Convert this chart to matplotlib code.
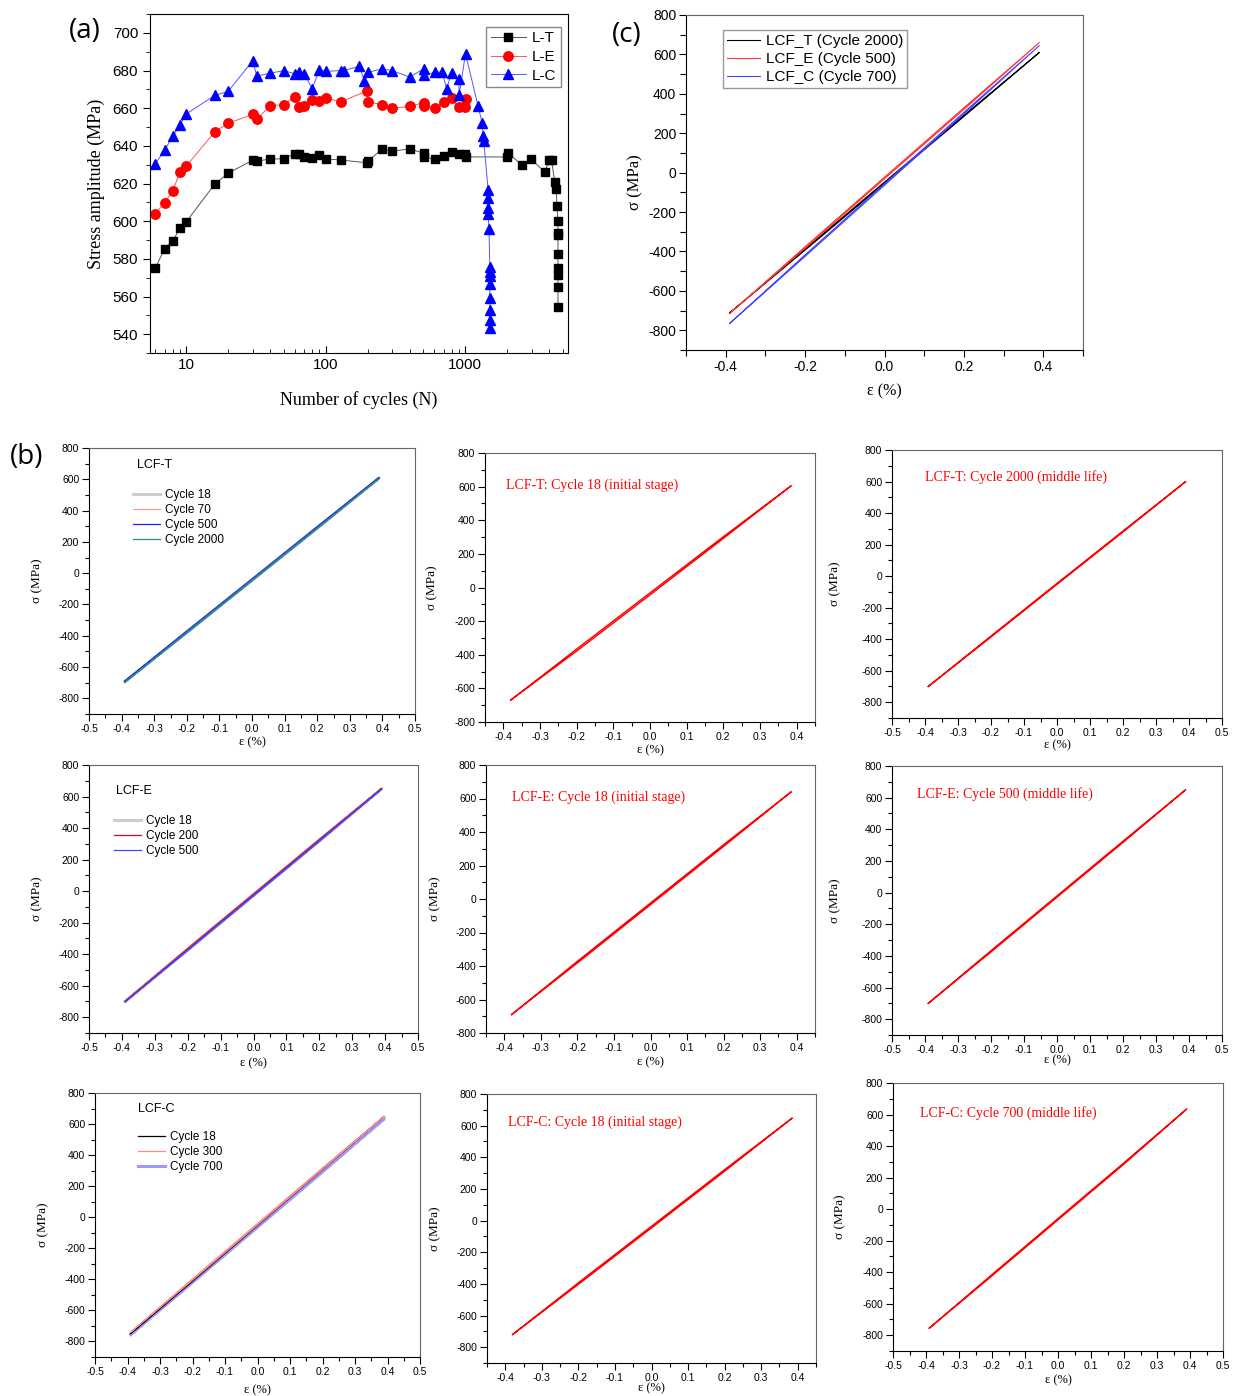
import matplotlib.pyplot as plt
from matplotlib.ticker import MultipleLocator, LogLocator, NullFormatter, FormatStrFormatter

SANS = 'Liberation Sans'
SERIF = 'Liberation Serif'
LABELFONT = 'Open Sans'

plt.rcParams['font.family'] = SANS
plt.rcParams['axes.unicode_minus'] = False

W, H = 1237, 1396

# ---------------- (a) stress amplitude vs number of cycles ----------------
lt_n = [6, 7, 8, 9, 10, 16, 20, 30, 32, 40, 50, 60, 64, 70, 80, 90, 100, 128, 197, 200,
        254, 300, 400, 502, 510, 605, 700, 803, 896, 989, 1013, 2000, 2030, 2570, 2983,
        3717, 3994, 4155, 4375, 4500, 4540, 4620, 4620, 4620, 4620, 4620, 4620, 4620, 4620]
lt_s = [575, 585.4, 589.4, 596.3, 599.7, 619.6, 625.5, 632.4, 632, 632.9, 633.2, 635.7, 635.7,
        634, 633.6, 635, 633, 632.5, 631, 631.7, 638.4, 637.1, 638.4, 636.1, 634, 632.9, 634.5,
        636.6, 635.9, 635.9, 634.1, 634.1, 636.2, 629.6, 632.9, 626, 632.4, 632.4, 620.9, 617.2,
        607.8, 600.2, 593.9, 592.8, 582.4, 575.3, 571.3, 564.9, 554.5]

le_n = [6, 7, 8, 9, 10, 16, 20, 30, 32, 40, 50, 60, 64, 70, 80, 90, 100, 128, 197, 200,
        254, 300, 400, 502, 510, 605, 700, 803, 896, 989, 1013]
le_s = [603.9, 609.9, 615.9, 626, 629.2, 647.4, 652, 656.7, 654.1, 661.3, 661.9, 666.1, 660.4,
        661.3, 664.5, 663.6, 665.4, 663.4, 669.1, 663.3, 661.9, 659.9, 661, 662.9, 661, 660.1,
        663.3, 665.2, 660.4, 660.6, 665]

lc_n = [6, 7, 8, 9, 10, 16, 20, 30, 32, 40, 50, 60, 64, 70, 80, 90, 100, 128, 135, 174,
        189, 200, 254, 300, 400, 502, 510, 605, 684, 735, 798, 899, 904, 1004, 1237, 1321,
        1342, 1358, 1460, 1460, 1460, 1460, 1480, 1500, 1500, 1500, 1500, 1500, 1500, 1500, 1500]
lc_s = [630.4, 637.7, 645.1, 651.1, 656.9, 666.8, 668.9, 685.3, 677, 678.6, 679.9, 678.3, 679.3,
        678.3, 670.3, 680.4, 679.5, 680, 680, 682.2, 674.6, 679, 680.9, 679.9, 676.5, 680.9,
        677.6, 679, 679.2, 670.3, 678.6, 675.6, 667, 688.9, 661, 652.2, 645.1, 642.4,
        616.3, 612.4, 606.8, 603.9, 595.6, 575.7, 573, 570.9, 566.5, 559.4, 552.7, 547.6, 543.5]

# ---------------- hysteresis loops (strain %, stress MPa), vertices around each loop ----------------
eps_loop = [-0.39, -0.2, 0.0, 0.2, 0.39, 0.2, 0.0, -0.2, -0.39]
eps_init = [-0.38, -0.2, 0.0, 0.2, 0.385, 0.2, 0.0, -0.2, -0.38]

# (c) comparison at middle life
c_t2000 = [-712, -393, -54, 285, 610, 291, -48, -387, -712]
c_e500 = [-715, -384, -31, 321, 660, 329, -23, -376, -715]
c_c700 = [-765, -425, -64, 298, 645, 306, -56, -417, -765]

# (b) LCF-T
t_c18 = [-692, -379, -46, 288, 607, 294, -40, -373, -692]
t_c70 = [-695, -381, -48, 286, 608, 292, -42, -375, -695]
t_c500 = [-690, -376, -43, 291, 612, 297, -37, -370, -690]
t_c2000 = [-698, -384, -50, 283, 605, 289, -44, -378, -698]
t_init = [-670, -378, -44, 292, 605, 302, -32, -366, -670]
t_mid = [-700, -386, -52, 280, 600, 286, -46, -380, -700]

# (b) LCF-E
e_c18 = [-700, -375, -29, 317, 650, 325, -21, -367, -700]
e_c200 = [-698, -372, -26, 320, 652, 328, -18, -364, -698]
e_c500 = [-702, -377, -31, 315, 648, 321, -25, -371, -702]
e_init = [-690, -382, -34, 314, 640, 324, -24, -372, -690]
e_mid = [-700, -375, -29, 317, 650, 325, -21, -367, -700]

# (b) LCF-C
cc_c18 = [-748, -412, -53, 306, 650, 314, -45, -404, -748]
cc_c300 = [-740, -405, -49, 308, 650, 316, -41, -397, -740]
cc_c700 = [-755, -420, -64, 292, 635, 300, -56, -412, -755]
cc_init = [-720, -403, -46, 312, 648, 322, -36, -393, -720]
cc_mid = [-755, -423, -68, 286, 635, 294, -60, -415, -755]

TICKS_WIDE = [x / 10 for x in range(-5, 6)]
TICKS_NARROW = [x / 10 for x in range(-4, 5)]


def rect(l, t, r, b):
    return [l / W, 1 - b / H, (r - l) / W, (b - t) / H]


fig = plt.figure(figsize=(W / 100, H / 100), dpi=100)

# ---- panel (a)
ax = fig.add_axes(rect(150, 14, 568, 353))
ax.plot(lt_n, lt_s, '-s', color='#555555', lw=0.7, mfc='k', mec='k', ms=6, label='L-T')
ax.plot(le_n, le_s, '-o', color='#ff5555', lw=0.7, mfc='red', mec='red', ms=6.8, label='L-E')
ax.plot(lc_n, lc_s, '-^', color='#5555ff', lw=0.7, mfc='blue', mec='blue', ms=7.2, label='L-C')
ax.set_xscale('log')
ax.set_xlim(5.5, 5450)
ax.set_ylim(530, 710)
ax.set_yticks(range(540, 701, 20))
ax.yaxis.set_minor_locator(MultipleLocator(10))
ax.set_xticks([10, 100, 1000])
ax.set_xticklabels(['10', '100', '1000'])
ax.xaxis.set_minor_locator(LogLocator(base=10, subs=range(2, 10)))
ax.xaxis.set_minor_formatter(NullFormatter())
ax.tick_params(axis='y', which='both', direction='out', labelsize=11)
ax.tick_params(axis='x', which='both', direction='in', labelsize=11)
ax.tick_params(which='major', length=5)
ax.tick_params(which='minor', length=3)
ax.set_ylabel('Stress amplitude (MPa)', fontfamily=SERIF, fontsize=13)
ax.set_xlabel('Number of cycles (N)', fontfamily=SERIF, fontsize=13)
ax.yaxis.set_label_coords(-0.108, 0.5)
ax.xaxis.set_label_coords(0.5, -0.112)
leg = ax.legend(loc='upper right', bbox_to_anchor=(0.983, 0.962), borderaxespad=0,
                prop={'family': SANS, 'size': 11}, handlelength=2.3, numpoints=1,
                fancybox=False, edgecolor='#888888', framealpha=1, labelspacing=0.3,
                handletextpad=0.4, borderpad=0.3)


def loop_axes(box, xticks, xlim, ylim, tick_size=7.5, lab_size=9.5, ylab_x=-0.14, xlab_y=-0.085,
              major_len=5, minor_len=3, xminor=0.05):
    a = fig.add_axes(rect(*box))
    a.set_xlim(*xlim)
    a.set_ylim(*ylim)
    a.set_xticks(xticks)
    a.xaxis.set_major_formatter(FormatStrFormatter('%.1f'))
    a.xaxis.set_minor_locator(MultipleLocator(xminor))
    a.set_yticks(range(-800, 801, 200))
    a.yaxis.set_minor_locator(MultipleLocator(100))
    a.tick_params(which='both', direction='out', labelsize=tick_size, width=0.8, pad=2)
    a.tick_params(which='major', length=major_len)
    a.tick_params(which='minor', length=minor_len)
    for s in ['top', 'right']:
        a.spines[s].set_color('#666666')
    a.set_xlabel('ε (%)', fontfamily=SERIF, fontsize=lab_size - 0.5)
    a.set_ylabel('σ (MPa)', fontfamily=SERIF, fontsize=lab_size)
    a.yaxis.set_label_coords(ylab_x, 0.5)
    a.xaxis.set_label_coords(0.5, xlab_y)
    return a


# ---- panel (c)
ax = loop_axes((686, 15, 1083, 350), [-0.4, -0.2, 0.0, 0.2, 0.4], (-0.5, 0.5), (-900, 800),
               tick_size=10, lab_size=12, ylab_x=-0.108, xlab_y=-0.101, major_len=5,
               minor_len=4, xminor=0.1)
ax.plot(eps_loop, c_t2000, color='black', lw=0.8, label='LCF_T (Cycle 2000)')
ax.plot(eps_loop, c_e500, color='#ff3333', lw=0.8, label='LCF_E (Cycle 500)')
ax.plot(eps_loop, c_c700, color='#4444ff', lw=0.8, label='LCF_C (Cycle 700)')
ax.legend(loc='upper left', bbox_to_anchor=(0.093, 0.955), borderaxespad=0,
          prop={'family': SANS, 'size': 11}, handlelength=2.2, fancybox=False,
          edgecolor='#999999', framealpha=1, labelspacing=0.28, handletextpad=0.35,
          borderpad=0.25)

# ---- panel (b), first column: overlaid cycles
ax = loop_axes((89, 448, 415, 714), TICKS_WIDE, (-0.5, 0.5), (-900, 800),
               ylab_x=-0.141, xlab_y=-0.083)
ax.plot(eps_loop, t_c18, color='#cccccc', lw=2.2, label='Cycle 18')
ax.plot(eps_loop, t_c70, color='#ff9999', lw=0.9, label='Cycle 70')
ax.plot(eps_loop, t_c500, color='#2222ff', lw=0.9, label='Cycle 500')
ax.plot(eps_loop, t_c2000, color='#2e8b8b', lw=0.9, label='Cycle 2000')
ax.text(0.147, 0.936, 'LCF-T', transform=ax.transAxes, fontsize=9, va='center')
ax.legend(loc='upper left', bbox_to_anchor=(0.135, 0.846), borderaxespad=0, borderpad=0,
          frameon=False, prop={'family': SANS, 'size': 8.5}, handlelength=2.3,
          labelspacing=0.25, handletextpad=0.4)

ax = loop_axes((89, 765, 418, 1033), TICKS_WIDE, (-0.5, 0.5), (-900, 800),
               ylab_x=-0.14, xlab_y=-0.09)
ax.plot(eps_loop, e_c18, color='#cccccc', lw=2.2, label='Cycle 18')
ax.plot(eps_loop, e_c200, color='#ff0000', lw=0.9, label='Cycle 200')
ax.plot(eps_loop, e_c500, color='#4444ff', lw=0.9, label='Cycle 500')
ax.text(0.082, 0.903, 'LCF-E', transform=ax.transAxes, fontsize=9, va='center')
ax.legend(loc='upper left', bbox_to_anchor=(0.076, 0.813), borderaxespad=0, borderpad=0,
          frameon=False, prop={'family': SANS, 'size': 8.5}, handlelength=2.3,
          labelspacing=0.25, handletextpad=0.4)

ax = loop_axes((95, 1093, 420, 1357), TICKS_WIDE, (-0.5, 0.5), (-900, 800),
               ylab_x=-0.142, xlab_y=-0.102)
ax.plot(eps_loop, cc_c700, color='#9999ff', lw=2.2, label='Cycle 700')
ax.plot(eps_loop, cc_c18, color='black', lw=0.9, label='Cycle 18')
ax.plot(eps_loop, cc_c300, color='#ff8888', lw=0.9, label='Cycle 300')
ax.text(0.132, 0.94, 'LCF-C', transform=ax.transAxes, fontsize=9, va='center')
h, l = ax.get_legend_handles_labels()
ax.legend([h[1], h[2], h[0]], [l[1], l[2], l[0]], loc='upper left',
          bbox_to_anchor=(0.132, 0.856), borderaxespad=0, borderpad=0, frameon=False,
          prop={'family': SANS, 'size': 8.5}, handlelength=2.3, labelspacing=0.25,
          handletextpad=0.4)

# ---- panel (b), single loops
singles = [
    ((485, 453, 815, 722), TICKS_NARROW, (-0.45, 0.45), (-800, 800), eps_init, t_init,
     'LCF-T: Cycle 18 (initial stage)', (0.064, 0.88), -0.142, -0.082),
    ((892, 450, 1222, 718), TICKS_WIDE, (-0.5, 0.5), (-900, 800), eps_loop, t_mid,
     'LCF-T: Cycle 2000 (middle life)', (0.10, 0.90), -0.155, -0.078),
    ((486, 765, 815, 1033), TICKS_NARROW, (-0.45, 0.45), (-800, 800), eps_init, e_init,
     'LCF-E: Cycle 18 (initial stage)', (0.079, 0.88), -0.137, -0.086),
    ((892, 766, 1222, 1035), TICKS_WIDE, (-0.5, 0.5), (-900, 800), eps_loop, e_mid,
     'LCF-E: Cycle 500 (middle life)', (0.076, 0.896), -0.155, -0.071),
    ((487, 1094, 816, 1363), TICKS_NARROW, (-0.45, 0.45), (-900, 800), eps_init, cc_init,
     'LCF-C: Cycle 18 (initial stage)', (0.064, 0.896), -0.14, -0.072),
    ((893, 1083, 1223, 1351), TICKS_WIDE, (-0.5, 0.5), (-900, 800), eps_loop, cc_mid,
     'LCF-C: Cycle 700 (middle life)', (0.082, 0.888), -0.142, -0.086),
]
for box, xt, xl, yl, ex, sy, title, tpos, ylx, xly in singles:
    ax = loop_axes(box, xt, xl, yl, ylab_x=ylx, xlab_y=xly)
    ax.plot(ex, sy, color='red', lw=1.0)
    ax.text(tpos[0], tpos[1], title, transform=ax.transAxes, color='red',
            fontfamily=SERIF, fontsize=10, va='center')

# panel letters
fig.text(85 / W, 1 - 31 / H, '(a)', fontfamily=LABELFONT, fontsize=20, ha='center', va='center')
fig.text(627 / W, 1 - 35 / H, '(c)', fontfamily=LABELFONT, fontsize=20, ha='center', va='center')
fig.text(27 / W, 1 - 457 / H, '(b)', fontfamily=LABELFONT, fontsize=20, ha='center', va='center')

fig.savefig('out.png', dpi=100)
